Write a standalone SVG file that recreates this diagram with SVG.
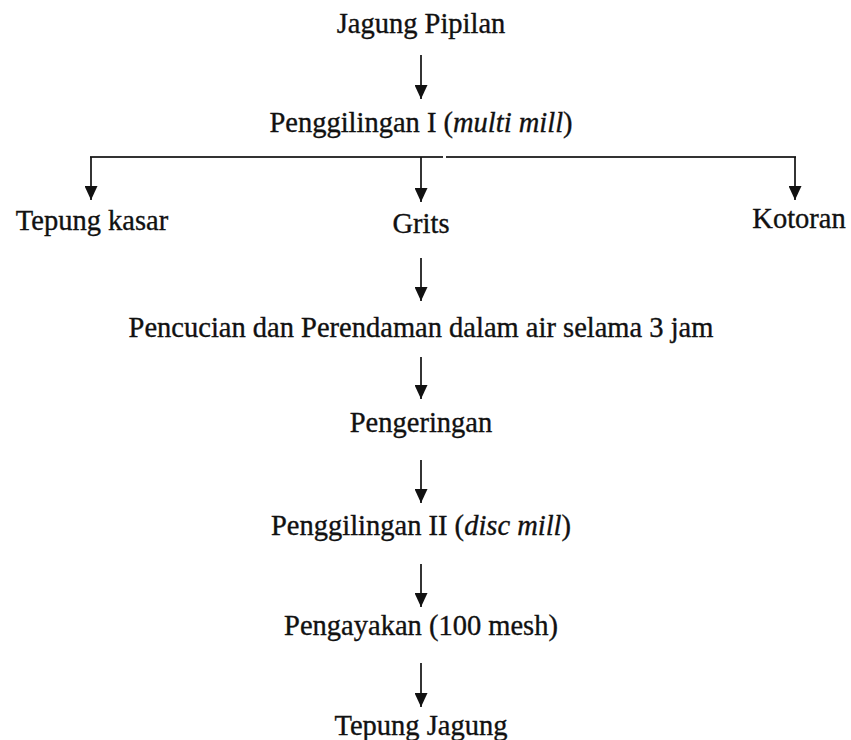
<svg xmlns="http://www.w3.org/2000/svg" width="851" height="740" viewBox="0 0 851 740">
<style>
text{font-family:"Liberation Serif","Times New Roman",serif;font-size:28.5px;fill:#111;stroke:#111;stroke-width:0.35;text-anchor:middle}
.c{stroke:#111;stroke-width:1.7;fill:none}
.h{stroke:#333;stroke-width:2.2;fill:none}
</style>
<defs>
<marker id="ah" viewBox="0 0 14 13" markerWidth="14" markerHeight="13" refX="14" refY="6.5" orient="auto" markerUnits="userSpaceOnUse">
<path d="M0,0 L14,6.5 L0,13 z" fill="#111"/>
</marker>
</defs>
<rect width="851" height="740" fill="#fff"/>
<g id="connectors">
<line class="c" x1="421" y1="55" x2="421" y2="99" marker-end="url(#ah)"/>
<line class="h" x1="90" y1="157" x2="443" y2="157"/>
<line class="h" x1="446" y1="157" x2="796" y2="157"/>
<line class="c" x1="91" y1="157" x2="91" y2="200" marker-end="url(#ah)"/>
<line class="c" x1="421" y1="157" x2="421" y2="202" marker-end="url(#ah)"/>
<line class="c" x1="795" y1="157" x2="795" y2="200" marker-end="url(#ah)"/>
<line class="c" x1="421" y1="258" x2="421" y2="301" marker-end="url(#ah)"/>
<line class="c" x1="421" y1="357" x2="421" y2="399" marker-end="url(#ah)"/>
<line class="c" x1="421" y1="460" x2="421" y2="503" marker-end="url(#ah)"/>
<line class="c" x1="421" y1="564" x2="421" y2="607" marker-end="url(#ah)"/>
<line class="c" x1="421" y1="663" x2="421" y2="707" marker-end="url(#ah)"/>
</g>
<g id="n-jagung-pipilan"><text x="421" y="33">Jagung Pipilan</text></g>
<g id="n-penggilingan1"><text x="421" y="132">Penggilingan I (<tspan font-style="italic">multi mill</tspan>)</text></g>
<g id="n-tepung-kasar"><text x="92" y="230">Tepung kasar</text></g>
<g id="n-grits"><text x="421" y="233">Grits</text></g>
<g id="n-kotoran"><text x="799" y="228">Kotoran</text></g>
<g id="n-pencucian"><text x="421" y="337">Pencucian dan Perendaman dalam air selama 3 jam</text></g>
<g id="n-pengeringan"><text x="421" y="432">Pengeringan</text></g>
<g id="n-penggilingan2"><text x="421" y="535">Penggilingan II (<tspan font-style="italic">disc mill</tspan>)</text></g>
<g id="n-pengayakan"><text x="421" y="635">Pengayakan (100 mesh)</text></g>
<g id="n-tepung-jagung"><text x="421" y="735">Tepung Jagung</text></g>
</svg>
